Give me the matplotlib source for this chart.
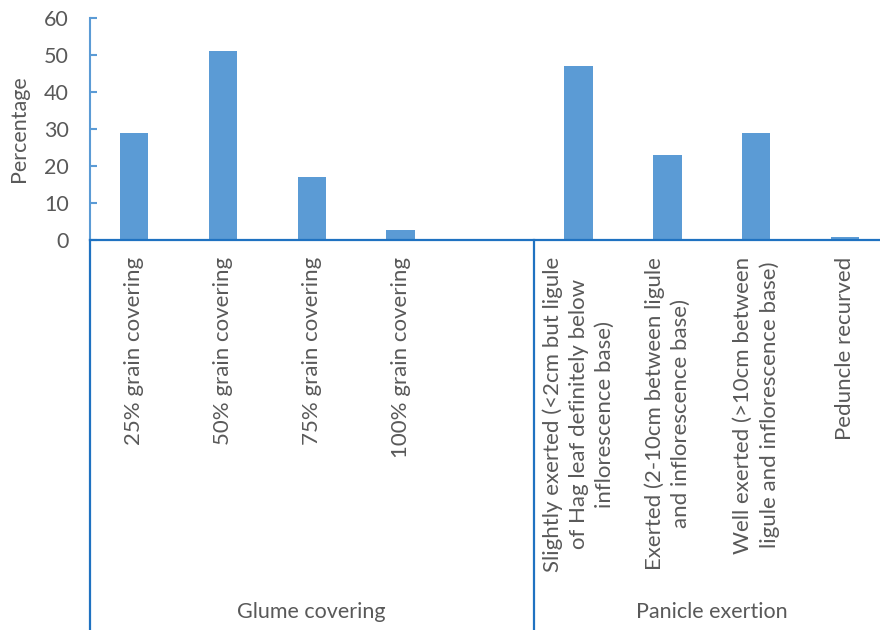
import numpy as np
import matplotlib.pyplot as plt

plt.rcParams['font.family'] = ['Lato', 'DejaVu Sans']

categories = [
    '25% grain covering',
    '50% grain covering',
    '75% grain covering',
    '100% grain covering',
    '',
    'Slightly exerted (<2cm but ligule\nof Hag leaf definitely below\ninflorescence base)',
    'Exerted (2-10cm between ligule\nand inflorescence base)',
    'Well exerted (>10cm between\nligule and inflorescence base)',
    'Peduncle recurved',
]
values = [29, 51.2, 17.1, 2.6, 0, 47, 23.1, 29, 0.8]
groups = ['Glume covering', 'Panicle exertion']
group_sizes = [5, 4]

bar_color = '#5B9BD5'
axis_color = '#1F72C1'
text_color = '#595959'

fig = plt.figure(figsize=(8.8, 6.3), dpi=100)
# axes run slightly past the right edge, as in the original
ax = fig.add_axes([89.5 / 880, 390 / 630, 800 / 880, 222 / 630])

x = np.arange(len(categories))
ax.bar(x, values, width=0.32, color=bar_color, zorder=2)

ax.set_xlim(-0.5, len(categories) - 0.5)
ax.set_ylim(0, 60)
ax.set_yticks(range(0, 61, 10))

for s in ['top', 'right']:
    ax.spines[s].set_visible(False)
ax.spines['left'].set_color(bar_color)
ax.spines['left'].set_linewidth(1.5)
ax.spines['bottom'].set_color(axis_color)
ax.spines['bottom'].set_linewidth(1.6)
ax.spines['bottom'].set_zorder(3)

ax.tick_params(axis='y', direction='in', length=5, width=1.5, color=bar_color,
               labelsize=15.5, labelcolor=text_color, pad=15)
ax.set_xticks(x)
ax.set_xticklabels(categories, rotation=90, ha='center', va='top',
                   multialignment='center', fontsize=16, color=text_color,
                   linespacing=1.38)
ax.tick_params(axis='x', length=0, pad=12)

ax.set_ylabel('Percentage', fontsize=15.5, color=text_color, labelpad=11)

# group separators and labels under the category labels
trans = ax.get_xaxis_transform()
bottom = -1.75
start = -0.5
for name, n in zip(groups, group_sizes):
    ax.plot([start, start], [0, bottom], transform=trans, color=axis_color,
            lw=1.6, clip_on=False)
    ax.text(start + n / 2, -1.675, name, transform=trans, ha='center',
            va='center', fontsize=15.5, color=text_color)
    start += n

fig.savefig('out.png', dpi=100)
